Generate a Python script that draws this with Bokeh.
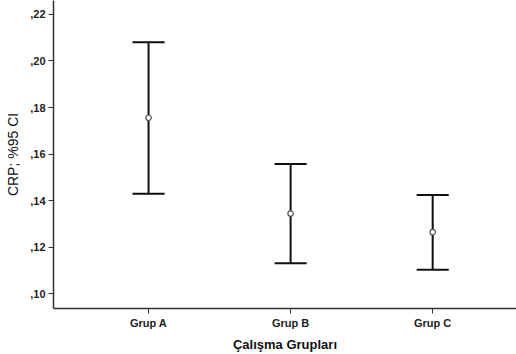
from bokeh.plotting import figure
from bokeh.models import FixedTicker, Range1d
from bokeh.embed import file_html
from bokeh.resources import INLINE

groups = ["Grup A", "Grup B", "Grup C"]
means = [0.1756, 0.1344, 0.1264]
lower = [0.1429, 0.1130, 0.1103]
upper = [0.2081, 0.1557, 0.1424]
y_ticks = [0.10, 0.12, 0.14, 0.16, 0.18, 0.20, 0.22]
y_tick_labels = [",10", ",12", ",14", ",16", ",18", ",20", ",22"]

xs = list(range(1, len(groups) + 1))

p = figure(width=516, height=354, output_backend="svg", toolbar_location=None,
           x_range=Range1d(0.331, 3.59), y_range=Range1d(0.0936, 0.226),
           min_border_left=53, min_border_right=0, min_border_top=0, min_border_bottom=45)
p.outline_line_color = None
p.grid.visible = False
p.background_fill_color = "white"
p.border_fill_color = "white"

cap = 0.113
p.segment(x0=xs, y0=lower, x1=xs, y1=upper, line_color="#111111", line_width=2)
p.segment(x0=[x - cap for x in xs], y0=upper, x1=[x + cap for x in xs], y1=upper,
          line_color="#111111", line_width=2)
p.segment(x0=[x - cap for x in xs], y0=lower, x1=[x + cap for x in xs], y1=lower,
          line_color="#111111", line_width=2)
p.scatter(x=xs, y=means, size=5.5, marker="circle", fill_color="white",
          line_color="#555555", line_width=1.2)

p.xaxis.ticker = FixedTicker(ticks=xs)
p.xaxis.major_label_overrides = {x: g for x, g in zip(xs, groups)}
p.yaxis.ticker = FixedTicker(ticks=y_ticks)
p.yaxis.major_label_overrides = {t: l for t, l in zip(y_ticks, y_tick_labels)}

for ax in (p.xaxis, p.yaxis):
    ax.axis_line_color = "#333333"
    ax.axis_line_width = 1.5
    ax.major_tick_line_color = "#333333"
    ax.major_tick_out = 5
    ax.major_tick_in = 0
    ax.minor_tick_line_color = None
    ax.major_label_text_font = "Liberation Sans"
    ax.major_label_text_font_style = "bold"
    ax.major_label_text_font_size = "11px"
    ax.major_label_text_color = "#222222"
    ax.axis_label_text_font = "Liberation Sans"
    ax.axis_label_text_color = "#111111"

p.xaxis.axis_label = "Çalışma Grupları"
p.xaxis.axis_label_text_font_style = "bold"
p.xaxis.axis_label_text_font_size = "13px"
p.xaxis.major_label_standoff = 3
p.xaxis.axis_label_standoff = 5

p.yaxis.axis_label = "CRP; %95 CI"
p.yaxis.axis_label_text_font_style = "normal"
p.yaxis.axis_label_text_font_size = "14px"
p.yaxis.major_label_standoff = 3
p.yaxis.axis_label_standoff = 6

open("out.html", "w").write(file_html(p, INLINE))
